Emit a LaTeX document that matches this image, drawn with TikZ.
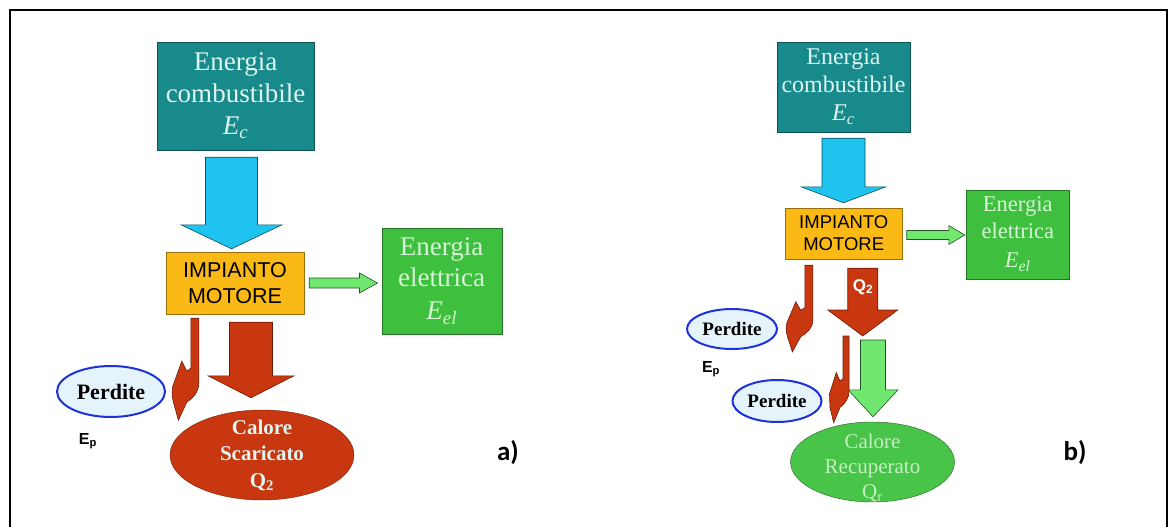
\documentclass[tikz,border=0pt]{standalone}
\usepackage{fontspec}
\setmainfont{Liberation Serif}
\setsansfont{Liberation Sans}
\newfontfamily\calfont{Carlito}
\usetikzlibrary{backgrounds,shapes.geometric,calc}
\pgfdeclarelayer{edgelayer}
\pgfdeclarelayer{nodelayer}
\pgfsetlayers{edgelayer,nodelayer,main}
\definecolor{tealbox}{RGB}{24,138,140}
\definecolor{tealtext}{RGB}{222,246,240}
\definecolor{coolblue}{RGB}{30,195,240}
\definecolor{motor}{RGB}{250,185,20}
\definecolor{elgreen}{RGB}{62,192,62}
\definecolor{eltext}{RGB}{215,245,215}
\definecolor{gainfill}{RGB}{112,232,112}
\definecolor{lossred}{RGB}{200,55,15}
\definecolor{lossfill}{RGB}{228,244,250}
\definecolor{lossline}{RGB}{30,50,220}
\definecolor{recfill}{RGB}{72,196,72}
\definecolor{rectext}{RGB}{196,240,196}
\tikzstyle{none}=[inner sep=0pt]
\tikzstyle{fuel}=[rectangle,fill=tealbox,draw=tealbox!60!black,text=tealtext,align=center,inner sep=0pt]
\tikzstyle{plant}=[rectangle,fill=motor,draw=motor!60!black,align=center,inner sep=0pt,font=\sffamily]
\tikzstyle{elec}=[rectangle,fill=elgreen,draw=elgreen!60!black,text=eltext,align=center,inner sep=0pt]
\tikzstyle{perd}=[ellipse,fill=lossfill,draw=lossline,line width=2pt,inner sep=0pt,font=\bfseries]
\tikzstyle{hot}=[ellipse,fill=lossred,draw=lossred!60!black,inner sep=0pt]
\tikzstyle{rec}=[ellipse,fill=recfill,draw=recfill!50!black,inner sep=0pt]
\tikzstyle{cool}=[fill=coolblue,draw=coolblue!40!black,line width=0.6pt]
\tikzstyle{gain}=[fill=gainfill,draw=gainfill!35!black,line width=0.6pt]
\tikzstyle{loss}=[fill=lossred,draw=lossred!55!black,line width=0.6pt]
% block arrows: style, from, to, shaft half width, head half width, head length
\newcommand{\fatdown}[6]{\draw[#1] let \p1=(#2), \p2=(#3) in
  (\x1-#4,\y1) -- (\x1+#4,\y1) -- (\x1+#4,\y2+#6) -- (\x1+#5,\y2+#6)
  -- (\x1,\y2) -- (\x1-#5,\y2+#6) -- (\x1-#4,\y2+#6) -- cycle;}
\newcommand{\fatright}[6]{\draw[#1] let \p1=(#2), \p2=(#3) in
  (\x1,\y1+#4) -- (\x2-#6,\y1+#4) -- (\x2-#6,\y1+#5) -- (\x2,\y1)
  -- (\x2-#6,\y1-#5) -- (\x2-#6,\y1-#4) -- (\x1,\y1-#4) -- cycle;}
\tikzset{hook/.pic={
  \draw[style=loss] (0,0) -- (8,0) -- (8,65) .. controls (8,74) and (2,80) .. (-4,84)
    -- (-12.4,102) -- (-17.4,84) .. controls (-19,76) .. (-18,68) -- (-9,43)
    -- (-4,53) -- (0,50) -- cycle;}}

\begin{document}
\begin{tikzpicture}[x=1pt,y=-1pt]
	\useasboundingbox (0,0) rectangle (1170,527);
	\begin{pgfonlayer}{nodelayer}
		% a)
		\node [style=fuel,minimum width=157pt,minimum height=108pt,font=\fontsize{27}{32}\selectfont] (0) at (235.5,96) {Energia\\combustibile\\\textit{E}\textsubscript{\textit{c}}};
		\node [style=plant,minimum width=138pt,minimum height=62pt,font=\sffamily\fontsize{21.5}{26}\selectfont] (1) at (235,283) {IMPIANTO\\MOTORE};
		\node [style=elec,minimum width=120pt,minimum height=106pt,font=\fontsize{27}{31}\selectfont] (2) at (441.7,281) {Energia\\elettrica\\[2pt]\textit{E}\textsubscript{\textit{el}}};
		\node [style=perd,minimum width=108pt,minimum height=51pt,font=\bfseries\fontsize{22}{22}\selectfont] (3) at (111,391.5) {Perdite};
		\node [style=hot,minimum width=184pt,minimum height=90pt,label={[align=center,text=tealtext,font=\bfseries\fontsize{21}{26.5}\selectfont]center:{Calore\\Scaricato\\Q\textsubscript{2}}}] (4) at (262,455) {};
		\node [style=none,font=\sffamily\bfseries\fontsize{16}{16}\selectfont] (5) at (88,441) {E\textsubscript{p}};
		\node [style=none,font=\calfont\bfseries\fontsize{27}{27}\selectfont] (6) at (508,453) {a)};
		% b)
		\node [style=fuel,minimum width=133pt,minimum height=90pt,font=\fontsize{24}{28}\selectfont] (7) at (843.5,87) {Energia\\combustibile\\\textit{E}\textsubscript{\textit{c}}};
		\node [style=plant,minimum width=117.5pt,minimum height=51pt,font=\sffamily\fontsize{18.5}{22}\selectfont] (8) at (843.75,233.5) {IMPIANTO\\MOTORE};
		\node [style=elec,minimum width=102.5pt,minimum height=89pt,font=\fontsize{22.5}{27}\selectfont] (9) at (1017.75,234.5) {Energia\\elettrica\\[2pt]\textit{E}\textsubscript{\textit{el}}};
		\node [style=perd,minimum width=90pt,minimum height=40pt,font=\bfseries\fontsize{19}{19}\selectfont] (10) at (732,329) {Perdite};
		\node [style=perd,minimum width=89pt,minimum height=42pt,font=\bfseries\fontsize{19}{19}\selectfont] (11) at (777,401) {Perdite};
		\node [style=rec,minimum width=164pt,minimum height=80pt,label={[align=center,text=rectext,font=\fontsize{21}{25}\selectfont,yshift=-6pt]center:{Calore\\Recuperato\\Q\textsubscript{r}}}] (12) at (872.5,462) {};
		\node [style=none,font=\sffamily\bfseries\fontsize{16}{16}\selectfont] (13) at (711,369) {E\textsubscript{p}};
		\coordinate (14) at (863,336);
		\node [style=none,text=white,font=\sffamily\bfseries\fontsize{17}{17}\selectfont] (15) at (863,287) {Q\textsubscript{2}};
		\coordinate (16) at (873,340);
		\node [style=none,font=\calfont\bfseries\fontsize{27}{27}\selectfont] (17) at (1075,453) {b)};
	\end{pgfonlayer}
	\begin{pgfonlayer}{edgelayer}
		\fatdown{style=cool}{[xshift=-4pt,yshift=-7pt]0.south}{[yshift=3pt]1.north}{26pt}{50.5pt}{24pt}
		\fatright{style=gain}{[xshift=5pt]1.east}{[xshift=-4pt]2.west}{5pt}{10pt}{18pt}
		\fatdown{style=loss}{[xshift=16pt,yshift=-8pt]1.south}{[yshift=12pt]4.north}{21.5pt}{43pt}{22pt}
		\pic at ([xshift=25pt,yshift=-4pt]1.south west) {hook};
		\fatdown{style=cool}{[yshift=-6pt]7.south}{[yshift=5pt]8.north}{21.5pt}{42.5pt}{16pt}
		\fatright{style=gain}{[xshift=4pt,yshift=-1.5pt]8.east}{[xshift=-1.5pt]9.west}{4.5pt}{9.5pt}{16pt}
		\fatdown{style=loss}{[xshift=19pt,yshift=-9pt]8.south}{14}{15pt}{35pt}{26pt}
		\fatdown{style=gain}{16}{[yshift=5pt]12.north}{12.5pt}{25pt}{27pt}
		\pic [yscale=0.85] at ([xshift=20pt,yshift=-6pt]8.south west) {hook};
		\pic [xscale=0.75,yscale=0.85] at ([xshift=-20pt]14) {hook};
	\end{pgfonlayer}
	\draw[line width=2.5pt] (10,527) -- (10,10) -- (1167,10) -- (1167,527);
\end{tikzpicture}
\end{document}
